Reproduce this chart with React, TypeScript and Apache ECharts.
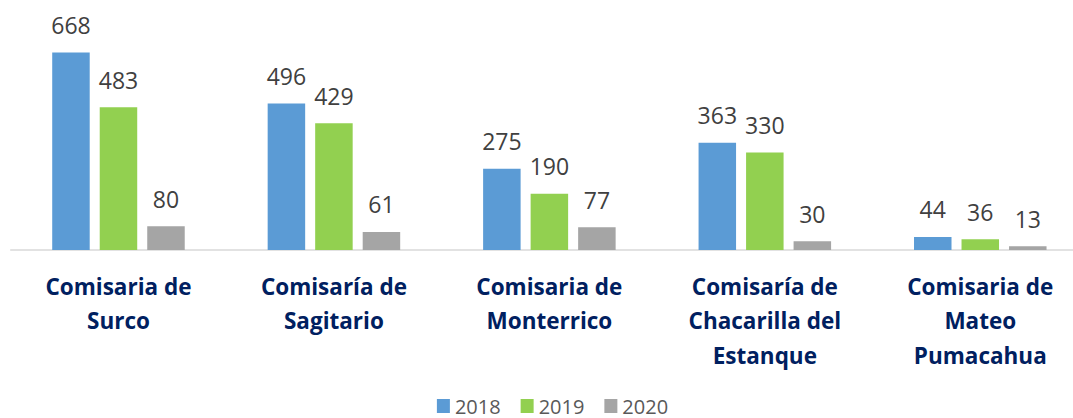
import React, { useEffect, useRef } from "react";
import * as echarts from "echarts";

const categories = [
  "Comisaria de\nSurco",
  "Comisaría de\nSagitario",
  "Comisaria de\nMonterrico",
  "Comisaría de\nChacarilla del\nEstanque",
  "Comisaria de\nMateo\nPumacahua",
];
const seriesNames = ["2018", "2019", "2020"];
const values2018 = [668, 496, 275, 363, 44];
const values2019 = [483, 429, 190, 330, 36];
const values2020 = [80, 61, 77, 30, 13];
const colors = ["#5B9BD5", "#92D050", "#A5A5A5"];

export default function App() {
  const ref = useRef<HTMLDivElement>(null);
  useEffect(() => {
    if (!ref.current) return;
    const chart = echarts.init(ref.current, null, { renderer: "svg" });
    const data = [values2018, values2019, values2020];
    chart.setOption({
      animation: false,
      grid: { left: 10.75, right: 17, top: 43.1, bottom: 168, containLabel: false },
      legend: {
        top: 391,
        left: "center",
        itemWidth: 13,
        itemHeight: 14,
        itemGap: 20,
        icon: "rect",
        textStyle: { fontFamily: "Open Sans", fontSize: 20, lineHeight: 20, color: "#595959" },
        data: seriesNames,
      },
      xAxis: {
        type: "category",
        data: categories,
        axisLine: { lineStyle: { color: "#D9D9D9", width: 1.5 } },
        axisTick: { show: false },
        axisLabel: {
          interval: 0,
          margin: 19,
          fontFamily: "Open Sans",
          fontWeight: "bold",
          fontSize: 22.5,
          lineHeight: 34.5,
          color: "#002060",
        },
      },
      yAxis: {
        type: "value",
        min: 0,
        max: 700,
        show: false,
        splitLine: { show: false },
      },
      series: seriesNames.map((name, i) => ({
        name,
        type: "bar",
        data: data[i],
        barWidth: 37.5,
        barGap: "26.7%",
        itemStyle: { color: colors[i] },
        label: {
          show: true,
          position: "top",
          distance: 16,
          fontFamily: "Open Sans",
          fontSize: 23,
          color: "#404040",
        },
      })),
    });
    return () => chart.dispose();
  }, []);
  return (
    <div style={{ position: "absolute", left: 0, top: 0, width: 1073, height: 418, overflow: "hidden" }}>
      <div ref={ref} style={{ width: 1105, height: 418 }} />
    </div>
  );
}
